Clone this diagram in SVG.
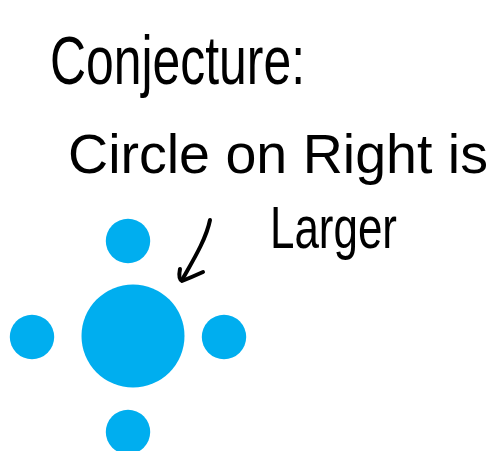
<svg xmlns="http://www.w3.org/2000/svg" width="500" height="451" viewBox="0 0 500 451">
<style>
.t{font-family:"Liberation Sans","DejaVu Sans",sans-serif;fill:#000;}
.dot{fill:#00AEEF;}
.ink{fill:none;stroke:#000;stroke-width:4;stroke-linecap:round;stroke-linejoin:round;}
</style>
<rect width="500" height="451" fill="#fff"/>
<g id="title"><text class="t" x="50" y="84" font-size="68" textLength="255" lengthAdjust="spacingAndGlyphs">Conjecture:</text></g>
<g id="line2"><text class="t" x="68" y="173" font-size="56" textLength="420" lengthAdjust="spacingAndGlyphs">Circle on Right is</text></g>
<g id="line3"><text class="t" x="270" y="248" font-size="60" textLength="127" lengthAdjust="spacingAndGlyphs">Larger</text></g>
<g id="center"><circle class="dot" cx="133" cy="336" r="51.5"/></g>
<g id="top"><circle class="dot" cx="128" cy="241" r="22.2"/></g>
<g id="left"><circle class="dot" cx="32" cy="337" r="22.2"/></g>
<g id="right"><circle class="dot" cx="224" cy="337" r="22.2"/></g>
<g id="bottom"><circle class="dot" cx="128" cy="432" r="22.2"/></g>
<g id="connectors">
<path class="ink" d="M210,220 C206,240 192,262 182,280"/>
<path class="ink" d="M180,269 Q178,279 182,281 Q192,277 203,272"/>
</g>
</svg>
